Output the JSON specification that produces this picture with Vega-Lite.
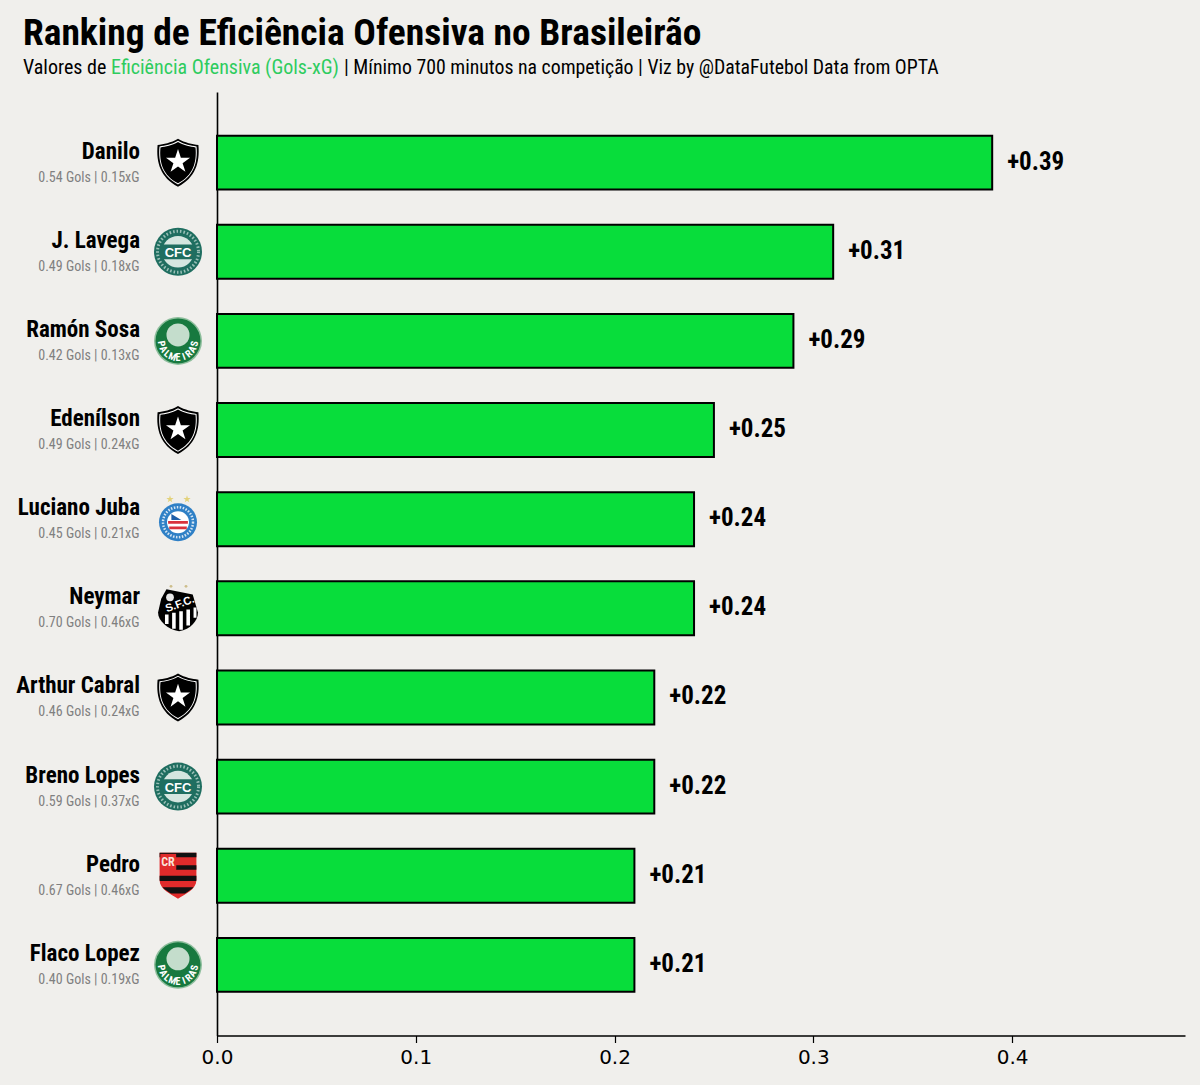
{
  "$schema": "https://vega.github.io/schema/vega-lite/v6.json",
  "width": 968,
  "height": 943.5,
  "autosize": {"type": "none"},
  "padding": {"left": 217, "top": 92, "right": 15, "bottom": 49.5},
  "background": "#F0EFEC",
  "title": {
    "text": "Ranking de Eficiência Ofensiva no Brasileirão",
    "anchor": "start",
    "frame": "group",
    "dx": -194,
    "offset": 5,
    "font": "Roboto Condensed",
    "fontWeight": "bold",
    "fontSize": 37.5,
    "color": "#000000"
  },
  "config": {"view": {"stroke": null}},
  "data": {
    "values": [
      {"player": "Danilo", "team": "Botafogo", "gols": 0.54, "xg": 0.15, "eff": 0.39, "stats": "0.54 Gols | 0.15xG"},
      {"player": "J. Lavega", "team": "Coritiba", "gols": 0.49, "xg": 0.18, "eff": 0.31, "stats": "0.49 Gols | 0.18xG"},
      {"player": "Ramón Sosa", "team": "Palmeiras", "gols": 0.42, "xg": 0.13, "eff": 0.29, "stats": "0.42 Gols | 0.13xG"},
      {"player": "Edenílson", "team": "Botafogo", "gols": 0.49, "xg": 0.24, "eff": 0.25, "stats": "0.49 Gols | 0.24xG"},
      {"player": "Luciano Juba", "team": "Bahia", "gols": 0.45, "xg": 0.21, "eff": 0.24, "stats": "0.45 Gols | 0.21xG"},
      {"player": "Neymar", "team": "Santos", "gols": 0.70, "xg": 0.46, "eff": 0.24, "stats": "0.70 Gols | 0.46xG"},
      {"player": "Arthur Cabral", "team": "Botafogo", "gols": 0.46, "xg": 0.24, "eff": 0.22, "stats": "0.46 Gols | 0.24xG"},
      {"player": "Breno Lopes", "team": "Coritiba", "gols": 0.59, "xg": 0.37, "eff": 0.22, "stats": "0.59 Gols | 0.37xG"},
      {"player": "Pedro", "team": "Flamengo", "gols": 0.67, "xg": 0.46, "eff": 0.21, "stats": "0.67 Gols | 0.46xG"},
      {"player": "Flaco Lopez", "team": "Palmeiras", "gols": 0.40, "xg": 0.19, "eff": 0.21, "stats": "0.40 Gols | 0.19xG"}
    ]
  },
  "encoding": {
    "y": {
      "field": "player",
      "type": "nominal",
      "title": null,
      "scale": {
        "domain": ["Danilo", "J. Lavega", "Ramón Sosa", "Edenílson", "Luciano Juba", "Neymar", "Arthur Cabral", "Breno Lopes", "Pedro", "Flaco Lopez"],
        "paddingInner": 0.395,
        "paddingOuter": 0.49
      },
      "axis": {"labels": false, "ticks": false, "title": null, "domainColor": "#000000", "domainWidth": 1.6, "grid": false}
    },
    "x": {
      "field": "eff",
      "type": "quantitative",
      "title": null,
      "scale": {"domain": [0, 0.487], "nice": false},
      "axis": {
        "values": [0, 0.1, 0.2, 0.3, 0.4],
        "format": ".1f",
        "grid": false,
        "labelFlush": false,
        "domainColor": "#000000",
        "domainWidth": 1.6,
        "tickColor": "#000000",
        "tickWidth": 1.2,
        "tickSize": 7,
        "labelFont": "DejaVu Sans",
        "labelFontSize": 20,
        "labelColor": "#000000",
        "labelPadding": 5,
        "title": null
      }
    }
  },
  "layer": [
    {"mark": {"type": "bar", "fill": "#08DD3B", "stroke": "#000000", "strokeWidth": 2}},
    {
      "mark": {"type": "text", "align": "left", "baseline": "middle", "dx": 15, "dy": -1, "font": "Roboto Condensed", "fontWeight": "bold", "fontSize": 25, "color": "#000000"},
      "encoding": {"text": {"field": "eff", "type": "quantitative", "format": "+.2f"}}
    },
    {
      "mark": {"type": "text", "align": "right", "baseline": "middle", "dx": -77, "dy": -11, "font": "Roboto Condensed", "fontWeight": "bold", "fontSize": 23, "color": "#000000"},
      "encoding": {"x": {"datum": 0, "type": "quantitative"}, "text": {"field": "player"}}
    },
    {
      "mark": {"type": "text", "align": "right", "baseline": "middle", "dx": -77.5, "dy": 15, "font": "Roboto Condensed", "fontSize": 14, "color": "#808080"},
      "encoding": {"x": {"datum": 0, "type": "quantitative"}, "text": {"field": "stats"}}
    },
    {
      "data": {"values": [{}]},
      "mark": {"type": "text", "align": "left", "baseline": "middle", "x": -194, "y": -24.5, "font": "Roboto Condensed", "fontSize": 20, "color": "#000000", "text": "Valores de"},
      "encoding": {"x": null, "y": null}
    },
    {
      "data": {"values": [{}]},
      "mark": {"type": "text", "align": "left", "baseline": "middle", "x": -106, "y": -24.5, "font": "Roboto Condensed", "fontSize": 20, "color": "#2ECC5E", "text": "Eficiência Ofensiva (Gols-xG)"},
      "encoding": {"x": null, "y": null}
    },
    {
      "data": {"values": [{}]},
      "mark": {"type": "text", "align": "left", "baseline": "middle", "x": 127, "y": -24.5, "font": "Roboto Condensed", "fontSize": 19.8, "color": "#000000", "text": "| Mínimo 700 minutos na competição | Viz by @DataFutebol Data from OPTA"},
      "encoding": {"x": null, "y": null}
    },

    {
      "transform": [{"filter": "datum.team == 'Botafogo'"}],
      "encoding": {"x": {"datum": 0, "type": "quantitative"}},
      "layer": [
        {"mark": {"type": "point", "filled": true, "opacity": 1, "xOffset": -39, "shape": "M0,-1 C0.3,-0.82 0.6,-0.78 0.85,-0.74 C0.92,0 0.72,0.62 0,1 C-0.72,0.62 -0.92,0 -0.85,-0.74 C-0.6,-0.78 -0.3,-0.82 0,-1 Z", "size": 2304, "color": "#000000"}},
        {"mark": {"type": "point", "filled": true, "opacity": 1, "xOffset": -39, "shape": "M0,-1 C0.3,-0.82 0.6,-0.78 0.85,-0.74 C0.92,0 0.72,0.62 0,1 C-0.72,0.62 -0.92,0 -0.85,-0.74 C-0.6,-0.78 -0.3,-0.82 0,-1 Z", "size": 1900, "color": "#FFFFFF"}},
        {"mark": {"type": "point", "filled": true, "opacity": 1, "xOffset": -39, "shape": "M0,-1 C0.3,-0.82 0.6,-0.78 0.85,-0.74 C0.92,0 0.72,0.62 0,1 C-0.72,0.62 -0.92,0 -0.85,-0.74 C-0.6,-0.78 -0.3,-0.82 0,-1 Z", "size": 1700, "color": "#000000"}},
        {"mark": {"type": "point", "filled": true, "opacity": 1, "xOffset": -39, "yOffset": -1, "shape": "M0,-1 L0.225,-0.309 L0.951,-0.309 L0.363,0.118 L0.588,0.809 L0,0.382 L-0.588,0.809 L-0.363,0.118 L-0.951,-0.309 L-0.225,-0.309 Z", "size": 640, "color": "#FFFFFF"}}
      ]
    },
    {
      "transform": [{"filter": "datum.team == 'Coritiba'"}],
      "encoding": {"x": {"datum": 0, "type": "quantitative"}},
      "layer": [
        {"mark": {"type": "point", "filled": true, "opacity": 1, "xOffset": -39, "shape": "circle", "size": 2304, "color": "#1F6E60"}},
        {"mark": {"type": "point", "filled": false, "opacity": 0.7, "xOffset": -39, "shape": "circle", "size": 1680, "stroke": "#CFE3DC", "strokeWidth": 3, "strokeDash": [1.5, 2]}},
        {"mark": {"type": "point", "filled": true, "opacity": 1, "xOffset": -39, "shape": "circle", "size": 1000, "color": "#D5E6E0"}},
        {"mark": {"type": "point", "filled": true, "opacity": 1, "xOffset": -39, "shape": "M-1,-0.42 H1 V0.42 H-1 Z", "size": 1225, "color": "#1F6E60"}},
        {"mark": {"type": "text", "align": "center", "baseline": "middle", "dx": -39, "dy": 1, "font": "Liberation Sans", "fontWeight": "bold", "fontSize": 13, "color": "#FFFFFF", "text": "CFC"}}
      ]
    },
    {
      "transform": [{"filter": "datum.team == 'Palmeiras'"}],
      "encoding": {"x": {"datum": 0, "type": "quantitative"}},
      "layer": [
        {"mark": {"type": "point", "filled": true, "opacity": 1, "xOffset": -39, "shape": "circle", "size": 2304, "color": "#8DBE9C"}},
        {"mark": {"type": "point", "filled": true, "opacity": 1, "xOffset": -39, "shape": "circle", "size": 2025, "color": "#17793F"}},
        {"mark": {"type": "point", "filled": true, "opacity": 1, "xOffset": -39, "yOffset": -6, "shape": "circle", "size": 530, "color": "#C4DDCC"}},
        {"mark": {"type": "text", "align": "center", "baseline": "middle", "dx": -6.8, "dy": 55.4, "angle": 80, "font": "Roboto Condensed", "fontWeight": "bold", "fontSize": 10, "color": "#FFFFFF", "text": "P"}},
        {"mark": {"type": "text", "align": "center", "baseline": "middle", "dx": -19.5, "dy": 50.8, "angle": 60, "font": "Roboto Condensed", "fontWeight": "bold", "fontSize": 10, "color": "#FFFFFF", "text": "A"}},
        {"mark": {"type": "text", "align": "center", "baseline": "middle", "dx": -29.9, "dy": 42.1, "angle": 40, "font": "Roboto Condensed", "fontWeight": "bold", "fontSize": 10, "color": "#FFFFFF", "text": "L"}},
        {"mark": {"type": "text", "align": "center", "baseline": "middle", "dx": -36.6, "dy": 30.3, "angle": 20, "font": "Roboto Condensed", "fontWeight": "bold", "fontSize": 10, "color": "#FFFFFF", "text": "M"}},
        {"mark": {"type": "text", "align": "center", "baseline": "middle", "dx": -39, "dy": 17, "font": "Roboto Condensed", "fontWeight": "bold", "fontSize": 10, "color": "#FFFFFF", "text": "E"}},
        {"mark": {"type": "text", "align": "center", "baseline": "middle", "dx": -36.6, "dy": 3.7, "angle": 340, "font": "Roboto Condensed", "fontWeight": "bold", "fontSize": 10, "color": "#FFFFFF", "text": "I"}},
        {"mark": {"type": "text", "align": "center", "baseline": "middle", "dx": -29.9, "dy": -8.1, "angle": 320, "font": "Roboto Condensed", "fontWeight": "bold", "fontSize": 10, "color": "#FFFFFF", "text": "R"}},
        {"mark": {"type": "text", "align": "center", "baseline": "middle", "dx": -19.5, "dy": -16.8, "angle": 300, "font": "Roboto Condensed", "fontWeight": "bold", "fontSize": 10, "color": "#FFFFFF", "text": "A"}},
        {"mark": {"type": "text", "align": "center", "baseline": "middle", "dx": -6.8, "dy": -21.4, "angle": 280, "font": "Roboto Condensed", "fontWeight": "bold", "fontSize": 10, "color": "#FFFFFF", "text": "S"}}
      ]
    },
    {
      "transform": [{"filter": "datum.team == 'Bahia'"}],
      "encoding": {"x": {"datum": 0, "type": "quantitative"}},
      "layer": [
        {"mark": {"type": "point", "filled": true, "opacity": 1, "xOffset": -39, "yOffset": 3, "shape": "circle", "size": 1444, "color": "#2F80C6"}},
        {"mark": {"type": "point", "filled": false, "opacity": 0.8, "xOffset": -39, "yOffset": 3, "shape": "circle", "size": 900, "stroke": "#FFFFFF", "strokeWidth": 2.5, "strokeDash": [1.5, 1.5]}},
        {"mark": {"type": "point", "filled": true, "opacity": 1, "xOffset": -39, "yOffset": 3, "shape": "circle", "size": 484, "color": "#FFFFFF"}},
        {"mark": {"type": "point", "filled": true, "opacity": 1, "xOffset": -39, "yOffset": 3, "shape": "M-0.9,-0.1 H0.9 V0.15 H-0.9 Z M-0.8,0.4 H0.8 V0.65 H-0.8 Z", "size": 484, "color": "#D9323C"}},
        {"mark": {"type": "point", "filled": true, "opacity": 1, "xOffset": -39, "yOffset": 3, "shape": "M-0.6,-0.75 L0.3,-0.2 L-0.6,-0.2 Z", "size": 484, "color": "#1F5FA8"}},
        {"mark": {"type": "point", "filled": true, "opacity": 1, "xOffset": -47, "yOffset": -20, "shape": "M0,-1 L0.225,-0.309 L0.951,-0.309 L0.363,0.118 L0.588,0.809 L0,0.382 L-0.588,0.809 L-0.363,0.118 L-0.951,-0.309 L-0.225,-0.309 Z", "size": 60, "color": "#E3D27A"}},
        {"mark": {"type": "point", "filled": true, "opacity": 1, "xOffset": -30, "yOffset": -20, "shape": "M0,-1 L0.225,-0.309 L0.951,-0.309 L0.363,0.118 L0.588,0.809 L0,0.382 L-0.588,0.809 L-0.363,0.118 L-0.951,-0.309 L-0.225,-0.309 Z", "size": 60, "color": "#E3D27A"}}
      ]
    },
    {
      "transform": [{"filter": "datum.team == 'Santos'"}],
      "encoding": {"x": {"datum": 0, "type": "quantitative"}},
      "layer": [
        {"mark": {"type": "point", "filled": true, "opacity": 1, "xOffset": -39, "yOffset": 2, "shape": "M-0.55,-1 L0.7,-0.75 L0.95,0.1 C0.95,0.5 0.6,0.9 0.05,1 C-0.5,0.9 -0.95,0.5 -0.95,0.1 L-0.8,-0.55 Z", "size": 1764, "color": "#000000"}},
        {"mark": {"type": "point", "filled": true, "opacity": 1, "xOffset": -39, "yOffset": 2, "shape": "M-0.62,0.2 H-0.45 V0.65 H-0.62 Z M-0.28,0.12 H-0.11 V0.88 H-0.28 Z M0.06,0.05 H0.23 V0.92 H0.06 Z M0.4,-0.04 H0.57 V0.72 H0.4 Z M0.74,-0.14 H0.88 V0.35 H0.74 Z", "size": 1764, "color": "#FFFFFF"}},
        {"mark": {"type": "point", "filled": true, "opacity": 1, "xOffset": -47, "yOffset": -11, "shape": "circle", "size": 60, "color": "#E8E8E8"}},
        {"mark": {"type": "text", "align": "center", "baseline": "middle", "dx": -33.4, "dy": -16.4, "angle": 340, "font": "Liberation Sans", "fontWeight": "bold", "fontSize": 11, "color": "#FFFFFF", "text": "S.F.C."}},
        {"mark": {"type": "point", "filled": true, "opacity": 1, "xOffset": -46, "yOffset": -22, "shape": "circle", "size": 8, "color": "#CDBE8C"}},
        {"mark": {"type": "point", "filled": true, "opacity": 1, "xOffset": -31, "yOffset": -22, "shape": "circle", "size": 8, "color": "#CDBE8C"}}
      ]
    },
    {
      "transform": [{"filter": "datum.team == 'Flamengo'"}],
      "encoding": {"x": {"datum": 0, "type": "quantitative"}},
      "layer": [
        {"mark": {"type": "point", "filled": true, "opacity": 1, "xOffset": -39, "shape": "M-0.8,-1 H0.8 V0.2 C0.8,0.6 0.3,0.8 0,1 C-0.3,0.8 -0.8,0.6 -0.8,0.2 Z", "size": 2116, "color": "#E02B2B"}},
        {"mark": {"type": "point", "filled": true, "opacity": 1, "xOffset": -39, "shape": "M-0.8,-1 H0.8 V-0.8 H-0.8 Z M-0.08,-0.45 H0.8 V-0.26 H-0.08 Z M-0.8,0 H0.8 V0.2 L0.79,0.23 H-0.79 L-0.8,0.2 Z M-0.68,0.5 H0.68 C0.55,0.62 0.42,0.7 0.3,0.77 H-0.3 C-0.42,0.7 -0.55,0.62 -0.68,0.5 Z", "size": 2116, "color": "#111111"}},
        {"mark": {"type": "point", "filled": true, "opacity": 1, "xOffset": -39, "shape": "M-0.77,-0.95 H-0.08 V-0.28 H-0.77 Z", "size": 2116, "color": "#E02B2B"}},
        {"mark": {"type": "text", "align": "center", "baseline": "middle", "dx": -49, "dy": -14, "font": "Roboto Condensed", "fontWeight": "bold", "fontSize": 12, "color": "#FBE3D8", "text": "CR"}}
      ]
    }
  ]
}
